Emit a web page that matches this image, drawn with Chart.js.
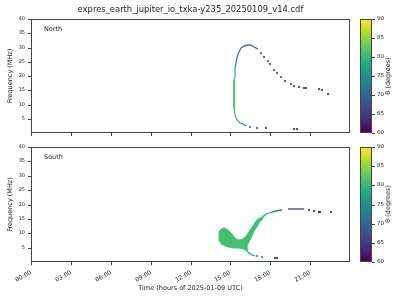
<html><head><meta charset="utf-8">
<script src="https://cdn.jsdelivr.net/npm/chart.js@4.4.1/dist/chart.umd.min.js"></script>
<style>
body{margin:0;background:#fff;}
#wrap{position:relative;width:400px;height:300px;font-family:"DejaVu Sans";}
canvas{position:absolute;}
.cbl{position:absolute;font-size:6.5px;color:#222;transform:translate(-50%,-50%) rotate(-90deg);white-space:nowrap;}
</style></head><body>
<div id="wrap">
<canvas id="north" width="356" height="142" style="left:0;top:0"></canvas>
<canvas id="south" width="356" height="160" style="left:0;top:140px"></canvas>
<canvas id="cbN" width="50" height="142" style="left:350px;top:0"></canvas>
<canvas id="cbS" width="50" height="160" style="left:350px;top:140px"></canvas>
<div class="cbl" style="left:388px;top:76px">θ (degrees)</div>
<div class="cbl" style="left:388px;top:204px">θ (degrees)</div>
</div>
<script>
// hours of day / MHz / theta (degrees)
var nLineT  = [16.18, 15.98, 15.73, 15.55, 15.43, 15.35, 15.28, 15.28, 15.28, 15.33, 15.38, 15.43, 15.5, 15.63, 15.8, 16.05, 16.3, 16.55, 16.8, 17.05];
var nLineF  = [2.6, 3.0, 3.6, 4.2, 5.1, 6.3, 8.8, 13.5, 18.6, 19.8, 22.7, 24.5, 26.8, 28.5, 29.7, 30.5, 30.9, 30.8, 30.3, 29.4];
var nLineTh = [72, 75, 78, 79, 80, 81, 82, 82, 82, 81, 79, 77, 75, 74, 73, 72, 71, 71, 70, 68];

var nDotT  = [17.3, 17.55, 17.8, 18.0, 18.3, 18.5, 18.8, 19.13, 19.55, 19.8, 20.18, 20.55, 20.68, 21.68, 21.93, 22.38, 16.48, 16.98, 17.68, 19.8, 19.98];
var nDotF  = [28.2, 26.8, 25.3, 24.1, 22.1, 21.2, 19.8, 18.4, 17.2, 16.6, 16.0, 15.8, 15.8, 15.3, 15.0, 13.6, 2.1, 1.8, 1.6, 1.3, 1.3];
var nDotTh = [67, 66, 66, 65, 65, 64, 64, 63, 63, 62, 62, 61, 61, 61, 61, 60, 70, 65, 62, 61, 61];

var sBlobT = [14.18, 14.18, 14.25, 14.43, 14.63, 14.8, 14.98, 15.18, 15.38, 15.63, 15.93, 16.18, 16.35, 16.5, 16.68, 16.88, 17.1, 17.35, 17.55, 17.55, 17.38, 17.18, 16.98, 16.8, 16.63, 16.48, 16.35, 16.25, 16.25, 15.93, 15.55, 15.18, 14.8, 14.48, 14.28];
var sBlobF = [7.2, 10.1, 11.2, 11.8, 11.7, 11.2, 10.3, 9.4, 8.4, 7.8, 8.0, 8.9, 10.0, 11.2, 12.5, 13.8, 14.8, 15.8, 16.3, 15.9, 14.7, 13.6, 12.2, 10.7, 9.2, 7.8, 6.4, 5.1, 3.8, 4.4, 4.7, 5.0, 5.3, 5.9, 6.4];
var sBlobTh = 81;

var sLineT  = [17.55, 17.7, 17.9, 18.15, 18.45, 18.9, 19.1, 19.3, 20.55];
var sLineF  = [16.1, 16.7, 17.2, 17.5, 17.8, 18.1, null, 18.4, 18.4];
var sLineTh = [79, 77, 76, 75, 74, 73, null, 66, 66];

var sTailT  = [16.25, 16.43, 16.63, 16.85];
var sTailF  = [3.8, 3.0, 2.5, 2.1];
var sTailTh = [79, 77, 76, 75];

var sDotT  = [17.0, 17.35, 18.35, 18.5, 20.93, 21.3, 21.65, 21.75, 22.55];
var sDotF  = [1.95, 1.75, 1.4, 1.4, 18.0, 17.7, 17.4, 17.4, 17.4];
var sDotTh = [74, 73, 61, 61, 61, 61, 60, 60, 61];

var xTicksStep = 3, yTicksStep = 5, thTicksStep = 5;

var VIR = ['#440154','#482475','#414487','#355f8d','#2a788e','#21918c','#22a884','#44bf70','#7ad151','#bddf26','#fde725'];
function hex(h){ return [1,3,5].map(function(i){ return parseInt(h.substr(i,2),16); }); }
function viridis(th){
  var u = Math.max(0, Math.min(1, (th - 60) / 30));
  var p = u * 10, i = Math.min(9, Math.floor(p)), f = p - i;
  var a = hex(VIR[i]), b = hex(VIR[i+1]);
  return 'rgb(' + [0,1,2].map(function(k){ return Math.round(a[k] + (b[k]-a[k])*f); }).join(',') + ')';
}
function pts(T, F){ return T.map(function(t, i){ return {x: t, y: F[i]}; }); }

Chart.defaults.font.family = '"DejaVu Sans"';
Chart.defaults.color = '#222';

var frame = { id: 'frame', afterDatasetsDraw: function(c){
  var a = c.chartArea, ctx = c.ctx;
  ctx.save(); ctx.strokeStyle = '#444'; ctx.lineWidth = 1;
  ctx.strokeRect(Math.round(a.left)+0.5, Math.round(a.top)+0.5, Math.round(a.right-a.left)-1, Math.round(a.bottom-a.top)-1);
  ctx.restore();
}};
var tag = { id: 'tag', afterDraw: function(c, args, o){
  var a = c.chartArea, ctx = c.ctx;
  ctx.save(); ctx.font = '6.5px "DejaVu Sans"'; ctx.fillStyle = '#222'; ctx.textBaseline = 'middle';
  ctx.fillText(o.text, a.left + 13, a.top + 10);
  ctx.restore();
}};

function lineSet(T, F, th, wide){
  return { data: pts(T, F), showLine: true, pointRadius: 0, borderWidth: 1.3, spanGaps: false,
    segment: {
      borderColor: function(c){ return viridis((th[c.p0DataIndex] + th[c.p1DataIndex]) / 2); },
      borderWidth: function(c){ return (wide && c.p0DataIndex >= wide[0] && c.p1DataIndex <= wide[1]) ? 2.2 : 1.3; }
    } };
}
function dotSet(T, F, th){
  var cols = th.map(viridis);
  return { data: pts(T, F), pointStyle: 'rect', pointRadius: 0.9, borderWidth: 0.6,
    backgroundColor: cols, borderColor: cols };
}

function panel(id, datasets, showX, label, title){
  new Chart(document.getElementById(id), {
    type: 'scatter',
    data: { datasets: datasets },
    options: {
      responsive: false, animation: false,
      layout: { padding: { left: 0, right: 6, top: title ? 0 : 7, bottom: 0 } },
      plugins: {
        legend: { display: false }, tooltip: { enabled: false },
        title: { display: !!title, text: title, fullSize: false, color: '#222',
                 font: { size: 8.4, weight: 'normal' }, padding: { top: 5, bottom: 4 } },
        tag: { text: label }
      },
      scales: {
        x: { type: 'linear', min: 0, max: 24, alignToPixels: true,
          afterBuildTicks: function(s){ s.ticks = s.ticks.filter(function(t){ return t.value < 24; }); },
          afterFit: function(s){ s.height = showX ? 38 : 9; },
          ticks: { display: showX, stepSize: xTicksStep, minRotation: 30, maxRotation: 30, padding: 4,
                   font: { size: 6 }, color: '#222',
                   callback: function(v){ return String(v).padStart(2, '0') + ':00'; } },
          grid: { drawOnChartArea: false, tickLength: 3, color: '#444' },
          border: { display: false },
          title: { display: showX, text: 'Time (hours of 2025-01-09 UTC)', font: { size: 6.5 }, color: '#222',
                   padding: { top: 0, bottom: 8 } } },
        y: { min: 0, max: 40, alignToPixels: true,
          afterBuildTicks: function(s){ s.ticks = s.ticks.filter(function(t){ return t.value > 0; }); },
          afterFit: function(s){ s.width = 31; },
          ticks: { stepSize: yTicksStep, padding: 3, font: { size: 5 }, color: '#222' },
          grid: { drawOnChartArea: false, tickLength: 3, color: '#444' },
          border: { display: false },
          title: { display: true, text: 'Frequency (MHz)', font: { size: 6.5 }, color: '#222',
                   padding: { top: 6, bottom: 0 } } }
      }
    },
    plugins: [frame, tag]
  });
}

function colorbar(id, top, bottom){
  new Chart(document.getElementById(id), {
    type: 'bar',
    data: { labels: ['θ'], datasets: [{ data: [[60, 90]], barPercentage: 1, categoryPercentage: 1, borderWidth: 0,
      backgroundColor: function(c){
        var a = c.chart.chartArea; if (!a) return null;
        var g = c.chart.ctx.createLinearGradient(0, a.bottom, 0, a.top);
        VIR.forEach(function(h, i){ g.addColorStop(i / 10, h); });
        return g;
      } }] },
    options: {
      responsive: false, animation: false,
      layout: { padding: { left: 10, right: 0, top: top, bottom: bottom } },
      plugins: { legend: { display: false }, tooltip: { enabled: false } },
      scales: {
        x: { display: false },
        y: { position: 'right', min: 60, max: 90, alignToPixels: true,
          afterFit: function(s){ s.width = 28; },
          ticks: { stepSize: thTicksStep, font: { size: 5.5 }, color: '#222', padding: 2 },
          grid: { drawOnChartArea: false, tickLength: 3, color: '#444' },
          border: { display: false } }
      }
    },
    plugins: [frame]
  });
}

panel('north', [lineSet(nLineT, nLineF, nLineTh, [6, 8]), dotSet(nDotT, nDotF, nDotTh)],
      false, 'North', 'expres_earth_jupiter_io_txka-y235_20250109_v14.cdf');

var blob = { data: pts(sBlobT, sBlobF), showLine: true, fill: 'shape', pointRadius: 0, borderWidth: 0.8,
  borderColor: viridis(sBlobTh), backgroundColor: viridis(sBlobTh) };
panel('south', [blob, lineSet(sLineT, sLineF, sLineTh), lineSet(sTailT, sTailF, sTailTh), dotSet(sDotT, sDotF, sDotTh)],
      true, 'South', null);

colorbar('cbN', 19, 9);
colorbar('cbS', 7, 38);
</script>
</body></html>
